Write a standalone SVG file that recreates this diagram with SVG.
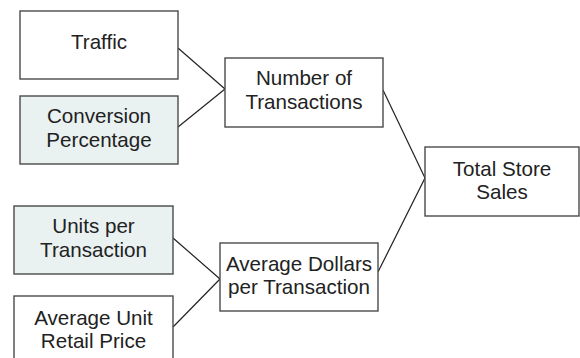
<svg xmlns="http://www.w3.org/2000/svg" width="580" height="358" viewBox="0 0 580 358">
<style>
.box{fill:#ffffff;stroke:#4a4a4a;stroke-width:1.4}
.hl{fill:#e9f1f1}
.t{font-family:"Liberation Sans",Arial,sans-serif;font-size:20.6px;fill:#222;text-anchor:middle}
.c{stroke:#222;stroke-width:1.2;fill:none}
</style>
<rect width="580" height="358" fill="#fff"/>
<g id="connectors">
<line class="c" x1="178" y1="48" x2="225" y2="89"/>
<line class="c" x1="178" y1="127" x2="225" y2="89"/>
<line class="c" x1="173" y1="238" x2="220" y2="279"/>
<line class="c" x1="173" y1="327" x2="220" y2="279"/>
<line class="c" x1="383" y1="90" x2="425" y2="178"/>
<line class="c" x1="378" y1="272" x2="425" y2="178"/>
</g>
<g id="traffic">
<rect class="box" x="20" y="11" width="158" height="68"/>
<text class="t" x="99" y="49">Traffic</text>
</g>
<g id="conversion">
<rect class="box hl" x="20" y="96" width="158" height="68"/>
<text class="t" x="99" y="123">Conversion</text>
<text class="t" x="99" y="147">Percentage</text>
</g>
<g id="transactions">
<rect class="box" x="225" y="58" width="158" height="69"/>
<text class="t" x="304" y="85">Number of</text>
<text class="t" x="304" y="109">Transactions</text>
</g>
<g id="units">
<rect class="box hl" x="14" y="206" width="159" height="68"/>
<text class="t" x="93.5" y="233">Units per</text>
<text class="t" x="93.5" y="257">Transaction</text>
</g>
<g id="unitprice">
<rect class="box" x="14" y="296" width="159" height="70"/>
<text class="t" x="93.5" y="325">Average Unit</text>
<text class="t" x="93.5" y="348">Retail Price</text>
</g>
<g id="avgdollars">
<rect class="box" x="220" y="243" width="158" height="68"/>
<text class="t" x="299" y="271">Average Dollars</text>
<text class="t" x="299" y="294">per Transaction</text>
</g>
<g id="total">
<rect class="box" x="425" y="147" width="154" height="69"/>
<text class="t" x="502" y="176">Total Store</text>
<text class="t" x="502" y="199">Sales</text>
</g>
</svg>
